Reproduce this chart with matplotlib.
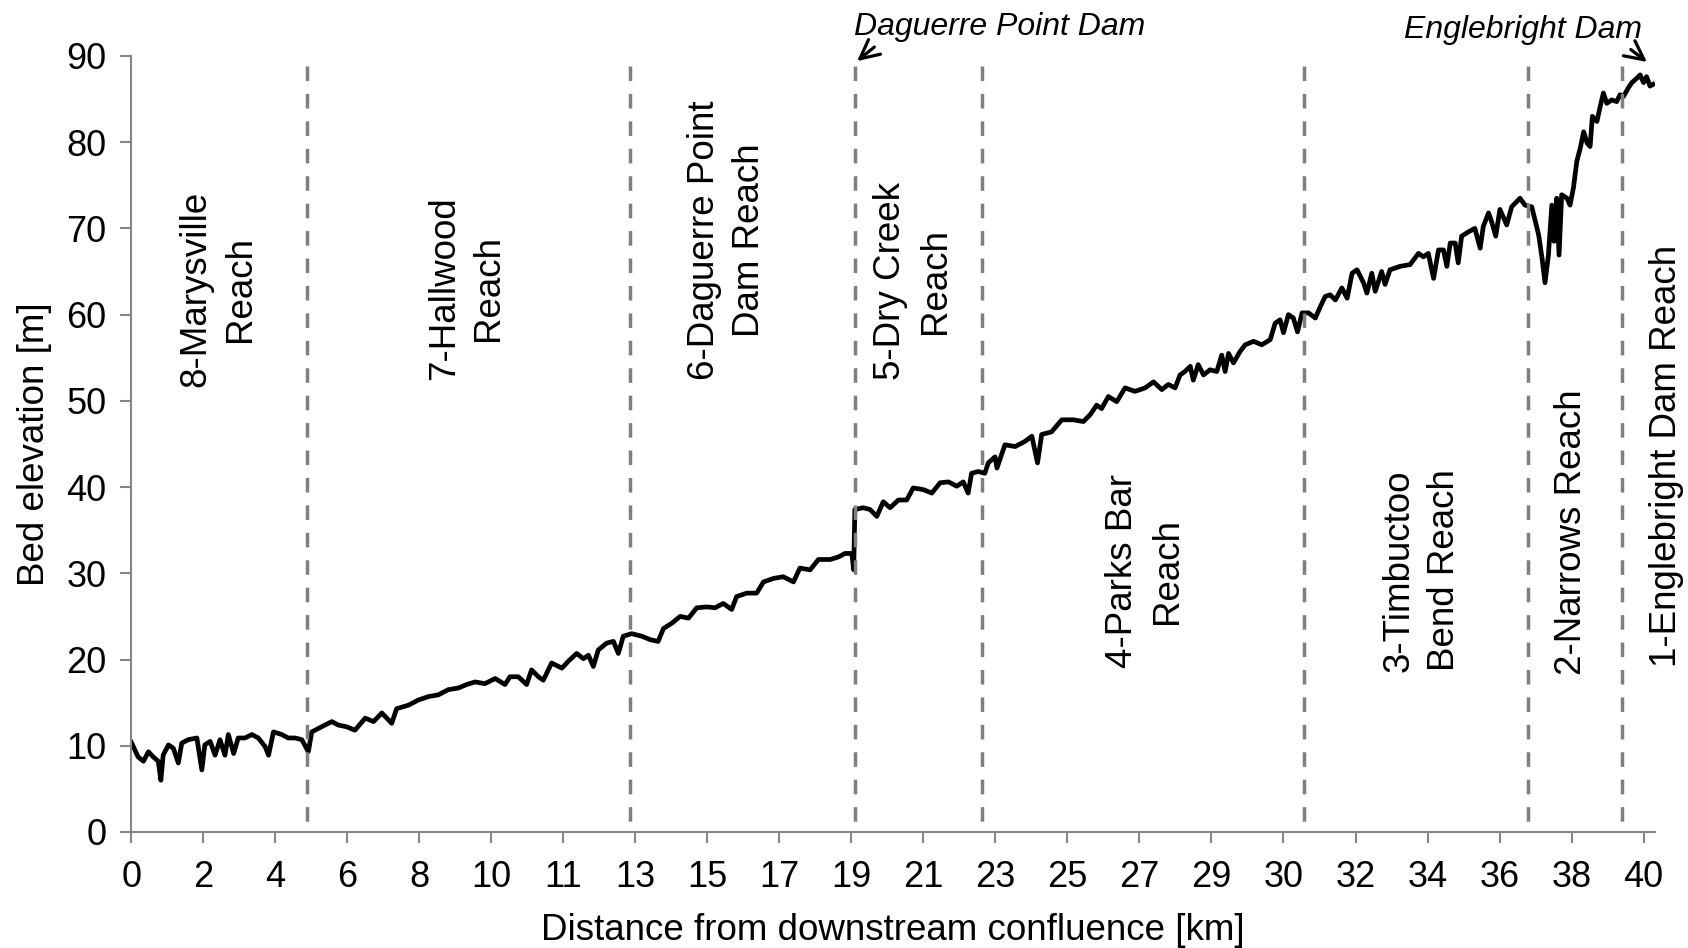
import matplotlib
matplotlib.use("Agg")
import matplotlib.pyplot as plt

# bed profile (km from confluence, bed elevation in m)
dist_km = [0.0, 0.18, 0.32, 0.45, 0.58, 0.71, 0.78, 0.84, 0.98, 1.11, 1.24, 1.33, 1.50, 1.73, 1.86, 1.94,
           2.08, 2.21, 2.34, 2.47, 2.56, 2.70, 2.82, 3.00, 3.18, 3.35, 3.53, 3.62, 3.75, 3.97, 4.14, 4.32,
           4.50, 4.67, 4.76, 5.02, 5.29, 5.46, 5.68, 5.90, 6.17, 6.39, 6.61, 6.87, 7.00, 7.31, 7.57, 7.84,
           8.10, 8.36, 8.63, 8.85, 9.07, 9.33, 9.60, 9.86, 9.99, 10.21, 10.43, 10.56, 10.74, 10.87, 11.09,
           11.36, 11.53, 11.75, 11.93, 12.06, 12.19, 12.32, 12.54, 12.72, 12.85, 12.98, 13.20, 13.47, 13.69,
           13.90, 14.04, 14.26, 14.48, 14.70, 14.92, 15.18, 15.40, 15.62, 15.84, 15.97, 16.24, 16.50, 16.68,
           16.94, 17.20, 17.47, 17.64, 17.91, 18.13, 18.44, 18.66, 18.83, 19.01, 19.06, 19.09, 19.31, 19.49,
           19.67, 19.84, 20.02, 20.24, 20.46, 20.63, 20.90, 21.12, 21.34, 21.56, 21.78, 21.95, 22.08, 22.17,
           22.35, 22.52, 22.61, 22.79, 22.84, 23.05, 23.32, 23.58, 23.76, 23.91, 24.02, 24.28, 24.55, 24.86,
           25.12, 25.30, 25.47, 25.60, 25.78, 26.00, 26.22, 26.48, 26.75, 26.97, 27.19, 27.36, 27.54, 27.67,
           27.80, 27.94, 28.02, 28.15, 28.29, 28.46, 28.64, 28.77, 28.86, 28.95, 29.08, 29.25, 29.39, 29.61,
           29.83, 30.05, 30.18, 30.31, 30.40, 30.53, 30.66, 30.77, 30.89, 31.06, 31.24, 31.37, 31.50, 31.63,
           31.77, 31.94, 32.08, 32.21, 32.34, 32.51, 32.60, 32.73, 32.82, 32.99, 33.08, 33.21, 33.48, 33.74,
           33.96, 34.09, 34.22, 34.36, 34.49, 34.62, 34.71, 34.80, 34.93, 35.01, 35.10, 35.28, 35.45, 35.59,
           35.67, 35.81, 35.89, 36.00, 36.11, 36.29, 36.42, 36.64, 36.77, 36.95, 37.13, 37.22, 37.30, 37.39,
           37.48, 37.54, 37.61, 37.67, 37.74, 37.88, 37.96, 38.05, 38.14, 38.23, 38.32, 38.41, 38.49, 38.55,
           38.67, 38.75, 38.84, 38.93, 39.06, 39.19, 39.28, 39.37, 39.50, 39.59, 39.72, 39.81, 39.90, 39.98,
           40.07, 40.15]
bed_elev = [10.4, 8.7, 8.2, 9.3, 8.7, 8.2, 6.0, 8.9, 10.1, 9.7, 8.0, 10.3, 10.7, 10.9, 7.2, 10.1,
            10.5, 8.9, 10.7, 8.9, 11.3, 9.1, 10.9, 10.9, 11.3, 10.9, 9.9, 8.9, 11.6, 11.3, 10.9, 10.9,
            10.7, 9.3, 11.6, 12.2, 12.8, 12.4, 12.2, 11.8, 13.2, 12.8, 13.8, 12.6, 14.3, 14.7, 15.3, 15.7,
            15.9, 16.5, 16.7, 17.1, 17.4, 17.2, 17.8, 17.1, 18.0, 18.0, 17.1, 18.8, 18.0, 17.6, 19.6,
            19.0, 19.8, 20.7, 20.1, 20.5, 19.2, 21.1, 21.9, 22.1, 20.7, 22.7, 23.0, 22.7, 22.3,
            22.1, 23.6, 24.2, 25.0, 24.8, 26.0, 26.1, 26.0, 26.5, 25.8, 27.3, 27.7, 27.7, 29.0,
            29.4, 29.6, 29.0, 30.6, 30.4, 31.6, 31.6, 31.9, 32.3, 32.3, 30.4, 37.4, 37.6, 37.4,
            36.6, 38.3, 37.6, 38.5, 38.5, 39.9, 39.7, 39.3, 40.5, 40.6, 40.1, 40.6, 39.3, 41.6,
            41.8, 41.6, 42.8, 43.5, 42.2, 44.9, 44.7, 45.3, 45.9, 42.8, 46.1, 46.4, 47.8, 47.8,
            47.6, 48.4, 49.5, 49.1, 50.5, 49.9, 51.5, 51.1, 51.5, 52.2, 51.3, 51.9, 51.5, 53.0,
            53.4, 54.0, 52.4, 54.2, 53.0, 53.6, 53.4, 55.3, 53.4, 55.5, 54.4, 55.7, 56.5, 56.9,
            56.5, 57.1, 59.0, 59.4, 57.9, 60.0, 59.6, 58.0, 60.2, 60.2, 59.6, 60.9, 62.1, 62.3,
            61.7, 63.1, 61.9, 64.8, 65.2, 63.7, 62.5, 64.8, 62.7, 65.0, 63.5, 65.2, 65.6, 65.8,
            67.1, 66.7, 67.1, 64.2, 67.5, 67.5, 65.6, 68.3, 68.3, 66.0, 69.1, 69.6, 70.0, 67.7,
            70.2, 71.8, 70.8, 69.1, 72.2, 70.4, 72.5, 73.5, 72.7, 72.5, 69.3, 66.6, 63.7, 66.9,
            72.7, 68.5, 73.5, 66.9, 73.9, 73.5, 72.7, 74.7, 77.8, 79.3, 81.2, 79.9, 79.5, 83.0,
            82.4, 84.0, 85.7, 84.5, 84.9, 84.7, 85.5, 85.3, 86.3, 86.9, 87.4, 87.8, 86.9, 87.6,
            86.5, 86.7]

# reach boundaries (km)
reach_bounds = [4.63, 13.15, 19.09, 22.44, 30.93, 36.84, 39.34]

# reach names, with label position (km, elevation at the start of the text)
reach_names = ["8-Marysville\nReach", "7-Hallwood\nReach", "6-Daguerre Point\nDam Reach",
               "5-Dry Creek\nReach", "4-Parks Bar\nReach", "3-Timbuctoo\nBend Reach",
               "2-Narrows Reach", "1-Englebright Dam Reach"]
label_km = [2.3, 8.85, 15.72, 20.62, 26.75, 34.05, 38.0, 40.5]
label_elev = [51.6, 52.4, 52.4, 52.4, 19.0, 18.6, 18.2, 19.1]

# category-style tick labels used on the x axis
tick_km = [i * 1.9 for i in range(22)]
tick_labels = ["0", "2", "4", "6", "8", "10", "11", "13", "15", "17", "19", "21", "23", "25",
               "27", "29", "30", "32", "34", "36", "38", "40"]


plt.rcParams['font.family'] = ['Liberation Sans', 'DejaVu Sans']
grey = "#868686"

fig = plt.figure(figsize=(16.88, 9.48), dpi=100)
ax = fig.add_axes([0.0778, 0.1224, 0.9026, 0.8186])

ax.plot(dist_km, bed_elev, color="black", linewidth=3.4, solid_joinstyle="round", zorder=2)

for xb in reach_bounds:
    ax.plot([xb, xb], [88.8, 0], color="#7f7f7f", linewidth=2.5,
            linestyle=(0, (4.2, 3.7)), zorder=3)

for name, xk, yk in zip(reach_names, label_km, label_elev):
    ax.text(xk, yk, name, rotation=90, ha="center", va="bottom",
            multialignment="center", linespacing=1.35, fontsize=26.5, clip_on=False)

# dam annotations
ax.annotate("Daguerre Point Dam", xy=(19.15, 89.4), xytext=(19.06, 93.3),
            ha="left", va="center", fontsize=23, style="italic",
            arrowprops=dict(arrowstyle="->", color="black", lw=2.3,
                            mutation_scale=34, shrinkA=2, shrinkB=0,
                            relpos=(0.09, 0.0)),
            annotation_clip=False)
ax.annotate("Englebright Dam", xy=(39.99, 89.3), xytext=(39.85, 93.0),
            ha="right", va="center", fontsize=23, style="italic",
            arrowprops=dict(arrowstyle="->", color="black", lw=2.3,
                            mutation_scale=34, shrinkA=2, shrinkB=0,
                            relpos=(0.93, 0.0)),
            annotation_clip=False)

ax.set_xlim(0, 40.2)
ax.set_ylim(0, 90)
ax.set_yticks(range(0, 91, 10))
ax.set_xticks(tick_km)
ax.set_xticklabels(tick_labels)

for side in ["top", "right"]:
    ax.spines[side].set_visible(False)
for side in ["left", "bottom"]:
    ax.spines[side].set_color(grey)
    ax.spines[side].set_linewidth(1.5)

ax.tick_params(axis="both", direction="out", length=8, width=1.5, color=grey,
               labelsize=26, labelcolor="black")
ax.tick_params(axis="y", pad=10)
ax.tick_params(axis="x", pad=12)

ax.set_xlabel("Distance from downstream confluence [km]", fontsize=26.5, labelpad=13)
ax.set_ylabel("Bed elevation [m]", fontsize=26.5, labelpad=10)

plt.savefig("out.png", dpi=100)
